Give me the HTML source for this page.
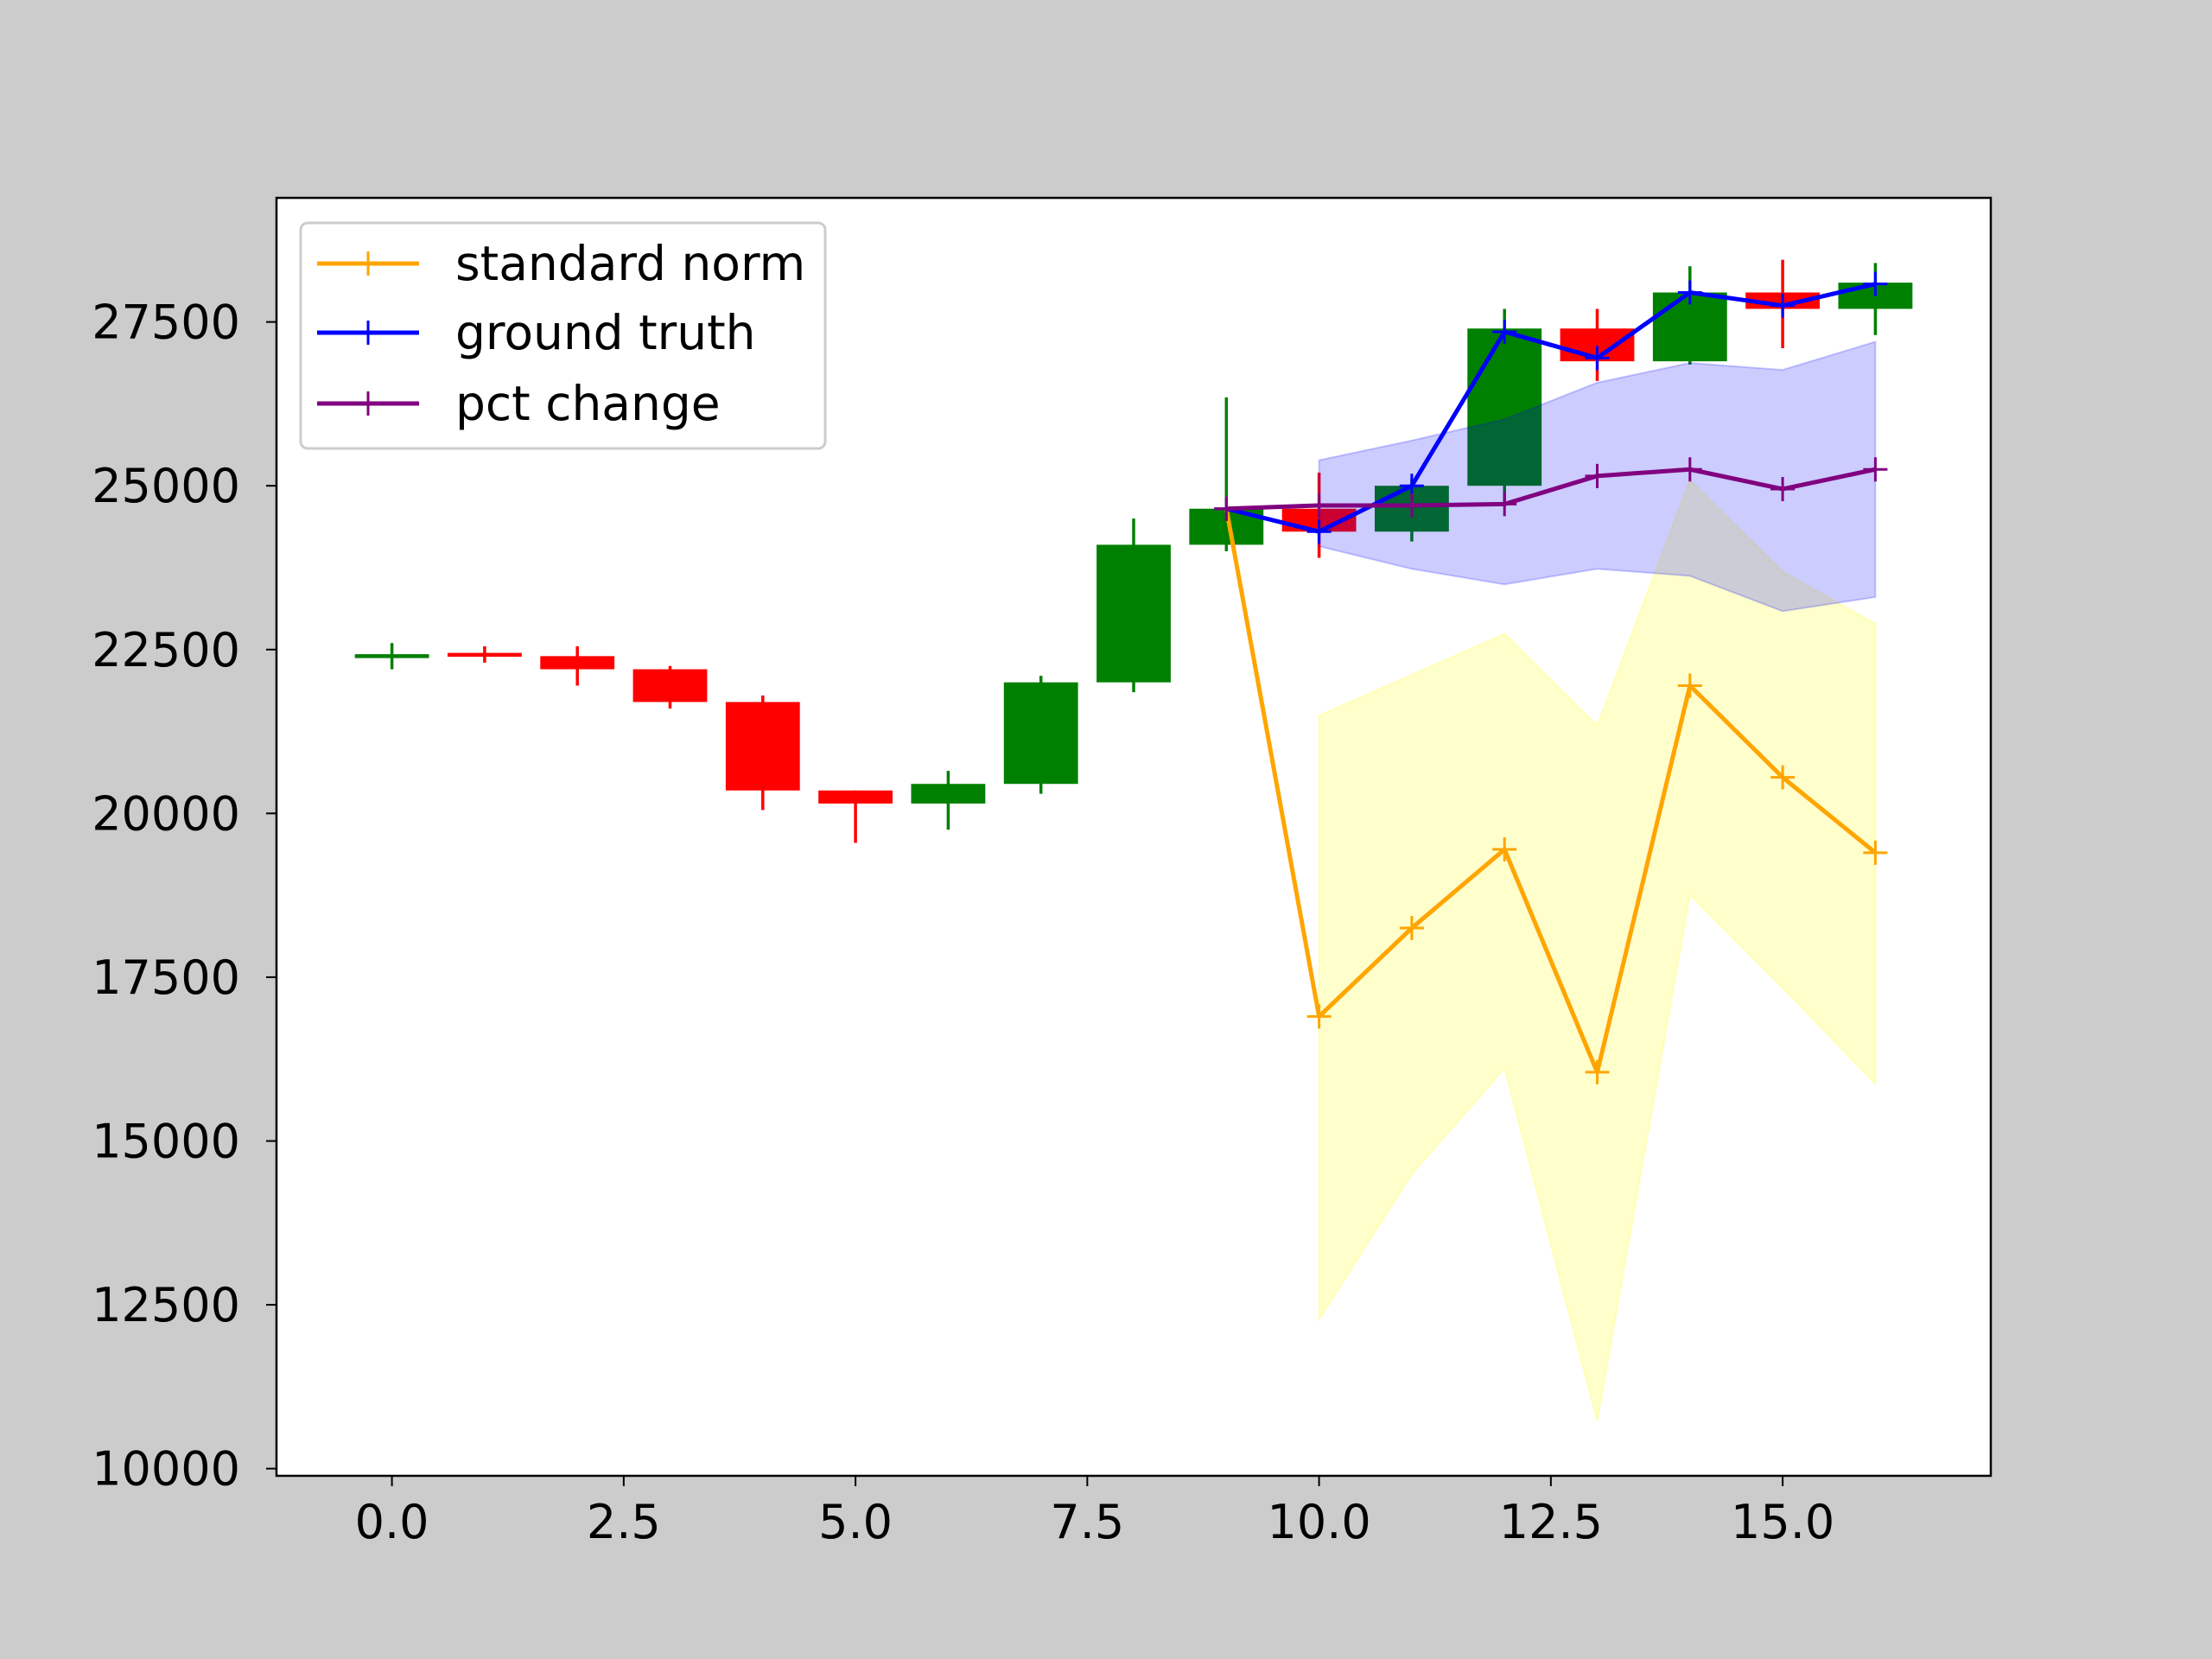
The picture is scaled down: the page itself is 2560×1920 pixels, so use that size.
<!DOCTYPE html>
<html><head><meta charset="utf-8"><style>
html,body{margin:0;padding:0;background:#cccccc;}
svg{display:block;font-family:"DejaVu Sans","Liberation Sans",sans-serif;}
</style></head><body>
<svg id="chart" width="2560" height="1920" viewBox="0 0 2560 1920" xmlns="http://www.w3.org/2000/svg">
<rect x="0" y="0" width="2560" height="1920" fill="#cccccc"/>
<rect x="320" y="229" width="1984" height="1479" fill="#ffffff"/>
<g id="candles"></g>
<g id="bands"></g>
<g id="lines"></g>
<rect x="320" y="229" width="1984" height="1479" fill="none" stroke="#000" stroke-width="2.5"/>
<g id="xticks"></g>
<g id="yticks"></g>
<g id="legend"></g>
</svg>
<script>
const candleX = [0,1,2,3,4,5,6,7,8,9,10,11,12,13,14,15,16];
const candleOpen  = [22400,22430,22400,22200,21700,20350,20150,20450,22000,24100,24650,24300,25000,27400,26900,27950,27700];
const candleClose = [22400,22410,22200,21700,20350,20150,20450,22000,24100,24650,24300,25000,27400,26900,27950,27700,28100];
const candleHigh  = [22600,22550,22550,22250,21800,20350,20650,22100,24500,26350,25200,25100,27700,27700,28350,28450,28400];
const candleLow   = [22200,22300,21950,21600,20050,19550,19750,20300,21850,24000,23900,24150,24700,26600,26850,27100,27300];
const predX = [9,10,11,12,13,14,15,16];
const groundTruth = [24650,24300,25000,27350,26950,27950,27750,28080];
const pctChange   = [24650,24700,24700,24720,25150,25250,24950,25250];
const standardNorm= [24650,16900,18250,19450,16050,21950,20550,19400];
const bandX = [10,11,12,13,14,15,16];
const yellowUpper = [21492,22116,22741,21341,25088,23689,22892];
const yellowLower = [12276,14494,16109,10726,18757,17336,15872];
const blueUpper   = [25390,25691,26014,26574,26875,26768,27199];
const blueLower   = [24076,23732,23495,23732,23624,23086,23301];
const xTicks = [0,2.5,5,7.5,10,12.5,15];
const xTickLabels = ["0.0","2.5","5.0","7.5","10.0","12.5","15.0"];
const yTicks = [10000,12500,15000,17500,20000,22500,25000,27500];
const yTickLabels = ["10000","12500","15000","17500","20000","22500","25000","27500"];

const NS="http://www.w3.org/2000/svg";
const X0=-1.245,X1=17.245,Y0=9890,Y1=29394;
const L=320,R=2304,T=229,B=1708;
function sx(v){return L+(v-X0)/(X1-X0)*(R-L);}
function sy(v){return B-(v-Y0)/(Y1-Y0)*(B-T);}
function mk(tag,attrs,parent){const e=document.createElementNS(NS,tag);for(const k in attrs)e.setAttribute(k,attrs[k]);parent.appendChild(e);return e;}

const gc=document.getElementById('candles');
candleX.forEach((x,i)=>{
  const up=candleClose[i]>=candleOpen[i];
  const col=up?'#008000':'#ff0000';
  const w=mk('line',{x1:sx(x),x2:sx(x),y1:sy(candleHigh[i]),y2:sy(candleLow[i]),stroke:col,'stroke-width':3.5},gc);
  
  
  const top=sy(Math.max(candleOpen[i],candleClose[i])),bot=sy(Math.min(candleOpen[i],candleClose[i]));
  const h=Math.max(bot-top,4.5);
  const r=mk('rect',{x:sx(x-0.4),y:(top+bot)/2-h/2,width:sx(x+0.4)-sx(x-0.4),height:h,fill:col},gc);
  
  
});

const gb=document.getElementById('bands');
function band(up,lo,col,name){
  let pts=bandX.map((x,i)=>sx(x)+','+sy(up[i]));
  pts=pts.concat(bandX.slice().reverse().map((x,j)=>{const i=bandX.length-1-j;return sx(x)+','+sy(lo[i]);}));
  const p=mk('polygon',{points:pts.join(' '),fill:col,'fill-opacity':0.2,stroke:col,'stroke-opacity':0.2,'stroke-width':2},gb);
  
  
}
band(yellowUpper,yellowLower,'#ffff00','standard-norm-band');
band(blueUpper,blueLower,'#0000ff','pct-change-band');

const gl=document.getElementById('lines');
function series(vals,col,name){
  const g=mk('g',{},gl);
  
  
  mk('polyline',{points:predX.map((x,i)=>sx(x)+','+sy(vals[i])).join(' '),fill:'none',stroke:col,'stroke-width':5,'stroke-linejoin':'round'},g);
  predX.forEach((x,i)=>{
    const cx=sx(x),cy=sy(vals[i]);
    mk('path',{d:`M${cx-14},${cy}H${cx+14}M${cx},${cy-14}V${cy+14}`,stroke:col,'stroke-width':3},g);
  });
}
series(standardNorm,'#ffa500','standard-norm-line');
series(groundTruth,'#0000ff','ground-truth-line');
series(pctChange,'#800080','pct-change-line');

const gx=document.getElementById('xticks');
xTicks.forEach((v,i)=>{
  const t=mk('line',{x1:sx(v),x2:sx(v),y1:B,y2:B+12,stroke:'#000','stroke-width':2},gx);
  
  
  const tx=mk('text',{x:sx(v),y:B+72,'text-anchor':'middle','font-size':54,fill:'#000'},gx);
  tx.textContent=xTickLabels[i];
  
  
});
const gy=document.getElementById('yticks');
yTicks.forEach((v,i)=>{
  const t=mk('line',{x1:L-12,x2:L,y1:sy(v),y2:sy(v),stroke:'#000','stroke-width':2},gy);
  
  
  const tx=mk('text',{x:L-42,y:sy(v)+19,'text-anchor':'end','font-size':54,fill:'#000'},gy);
  tx.textContent=yTickLabels[i];
  
  
});

const lg=document.getElementById('legend');
mk('rect',{x:348,y:258,width:607,height:261,rx:8,fill:'#fff','fill-opacity':0.8,stroke:'#cccccc','stroke-width':3},lg);
const legNames=['standard norm','ground truth','pct change'];
const legCols=['#ffa500','#0000ff','#800080'];
const legY=[305,385,467];
legNames.forEach((n,i)=>{
  const g=mk('g',{},lg);
  
  
  mk('line',{x1:367,x2:485,y1:legY[i],y2:legY[i],stroke:legCols[i],'stroke-width':5},g);
  mk('path',{d:`M412,${legY[i]}H440M426,${legY[i]-14}V${legY[i]+14}`,stroke:legCols[i],'stroke-width':3},g);
  const t=mk('text',{x:527,y:legY[i]+19,'font-size':55,fill:'#000'},g);
  t.textContent=n;
});
</script>
</body></html>
